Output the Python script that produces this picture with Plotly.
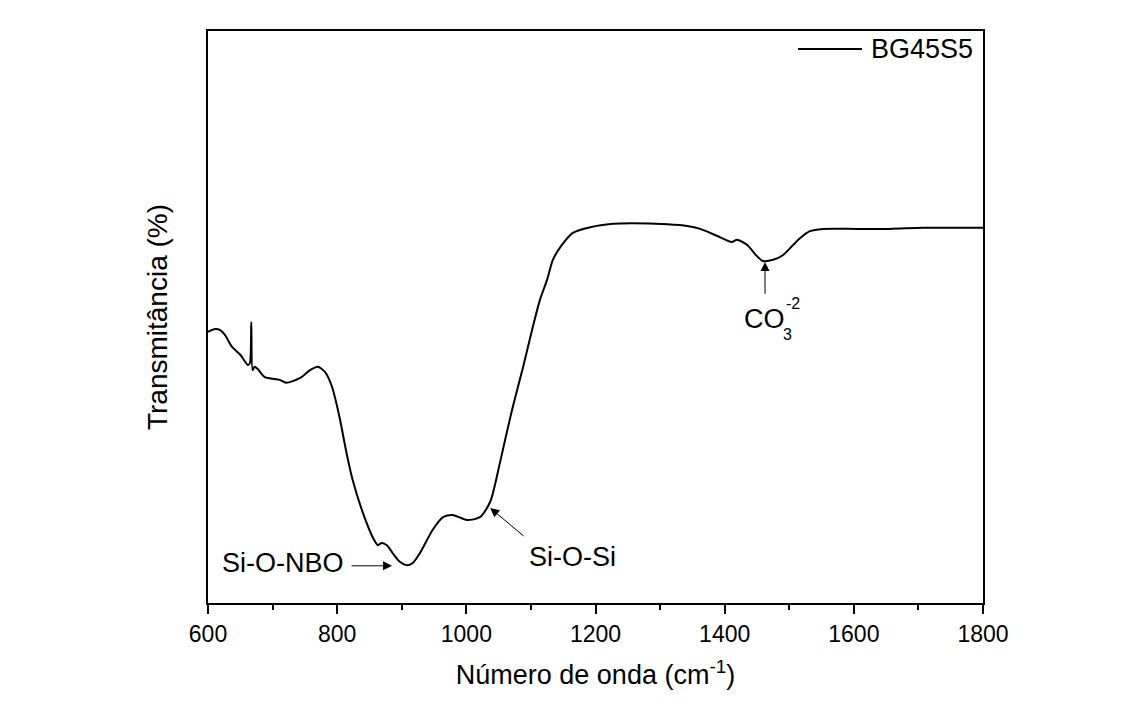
import plotly.graph_objects as go

# FTIR spectrum of the BG45S5 bioactive glass
wavenumber = [600, 611, 619, 626, 637, 650, 662, 665, 667, 669, 672, 677, 688, 711, 721,
              742, 758, 770, 781, 792, 804, 814, 824, 840, 855, 863, 869, 877, 886, 897, 908,
              917, 928, 948, 964, 979, 1001, 1021, 1037, 1052, 1060, 1072, 1088, 1103, 1114,
              1125, 1134, 1148, 1165, 1192, 1227, 1258, 1311, 1342, 1362, 1388, 1411, 1419,
              1435, 1447, 1459, 1475, 1490, 1506, 1517, 1532, 1552, 1605, 1656, 1707, 1795, 1800]
transmittance = [47.4, 47.9, 47.7, 46.9, 44.8, 43.4, 41.6, 42.0, 49.1, 40.7, 41.3, 40.9, 39.5, 39.0, 38.5,
                 39.3, 40.7, 41.3, 40.4, 37.8, 32.3, 26.5, 21.5, 15.7, 11.5, 10.1, 10.5, 10.1, 8.7, 7.2, 6.6,
                 7.0, 8.7, 12.8, 15.0, 15.4, 14.5, 15.0, 17.7, 24.5, 28.5, 34.3, 41.3, 48.3, 53.0,
                 56.5, 60.0, 62.6, 64.7, 65.7, 66.3, 66.4, 66.2, 65.9, 65.4, 64.2, 63.1, 63.5,
                 62.6, 61.0, 59.8, 60.0, 60.8, 62.6, 63.8, 65.0, 65.4, 65.4, 65.4, 65.6, 65.6, 65.6]

series_name = "BG45S5"
x_ticks = [600, 800, 1000, 1200, 1400, 1600, 1800]

FONT = "Arial, Liberation Sans, sans-serif"

fig = go.Figure()
fig.add_trace(go.Scatter(
    x=wavenumber, y=transmittance, mode="lines", name=series_name,
    line=dict(color="black", width=2, shape="spline", smoothing=0.7), showlegend=False,
))

# legend drawn by hand: sample line + label in the upper-right corner
fig.add_shape(type="line", xref="paper", yref="paper",
              x0=(798 - 208) / 775, x1=(862 - 208) / 775,
              y0=(603 - 49) / 572, y1=(603 - 49) / 572,
              line=dict(color="black", width=2))
fig.add_annotation(xref="paper", yref="paper", x=(869 - 208) / 775, y=(603 - 49) / 572,
                   text=series_name, showarrow=False, xanchor="left", yanchor="middle",
                   font=dict(family=FONT, size=27, color="black"))

ann_font = dict(family=FONT, size=27, color="black")
arrow_style = dict(showarrow=True, arrowhead=2, arrowsize=1.8, arrowwidth=1,
                   arrowcolor="black", axref="x", ayref="y", xref="x", yref="y", text="")

# Si-O-NBO band
fig.add_annotation(x=885, y=6.5, ax=820, ay=6.5, **arrow_style)
fig.add_annotation(x=814, y=7.0, text="Si-O-NBO", showarrow=False, xanchor="right",
                   yanchor="middle", font=ann_font)

# Si-O-Si band
fig.add_annotation(x=1037, y=16.6, ax=1091, ay=11.5, **arrow_style)
fig.add_annotation(x=1164, y=8.0, text="Si-O-Si", showarrow=False, xanchor="center",
                   yanchor="middle", font=ann_font)

# carbonate band
fig.add_annotation(x=1462.5, y=59.6, ax=1462.5, ay=53.8, **arrow_style)
fig.add_annotation(x=1461, y=49.7, text="CO", showarrow=False, xanchor="center",
                   yanchor="middle", font=ann_font)
fig.add_annotation(x=1506, y=52.3, text="-2", showarrow=False, xanchor="center",
                   yanchor="middle", font=dict(family=FONT, size=16, color="black"))
fig.add_annotation(x=1498, y=46.9, text="3", showarrow=False, xanchor="center",
                   yanchor="middle", font=dict(family=FONT, size=16, color="black"))

fig.update_xaxes(
    range=[600, 1800], tickmode="array", tickvals=x_ticks,
    ticks="outside", ticklen=9, tickwidth=2, tickcolor="black",
    minor=dict(dtick=100, ticks="outside", ticklen=5, tickwidth=2, tickcolor="black"),
    showline=True, linewidth=2, linecolor="black", mirror=True,
    showgrid=False, zeroline=False,
    tickfont=dict(family=FONT, size=23, color="black"),
    title=dict(text="Número de onda (cm<sup>-1</sup>)", standoff=20,
               font=dict(family=FONT, size=27, color="black")),
)
fig.update_yaxes(
    range=[0, 100], showticklabels=False, ticks="",
    showline=True, linewidth=2, linecolor="black", mirror=True,
    showgrid=False, zeroline=False,
    title=dict(text="Transmitância (%)", standoff=30,
               font=dict(family=FONT, size=28, color="black")),
)

fig.update_layout(
    width=1128, height=702,
    margin=dict(l=208, r=145, t=31, b=99, autoexpand=False),
    paper_bgcolor="white", plot_bgcolor="white",
)

fig.write_html("out.html")
